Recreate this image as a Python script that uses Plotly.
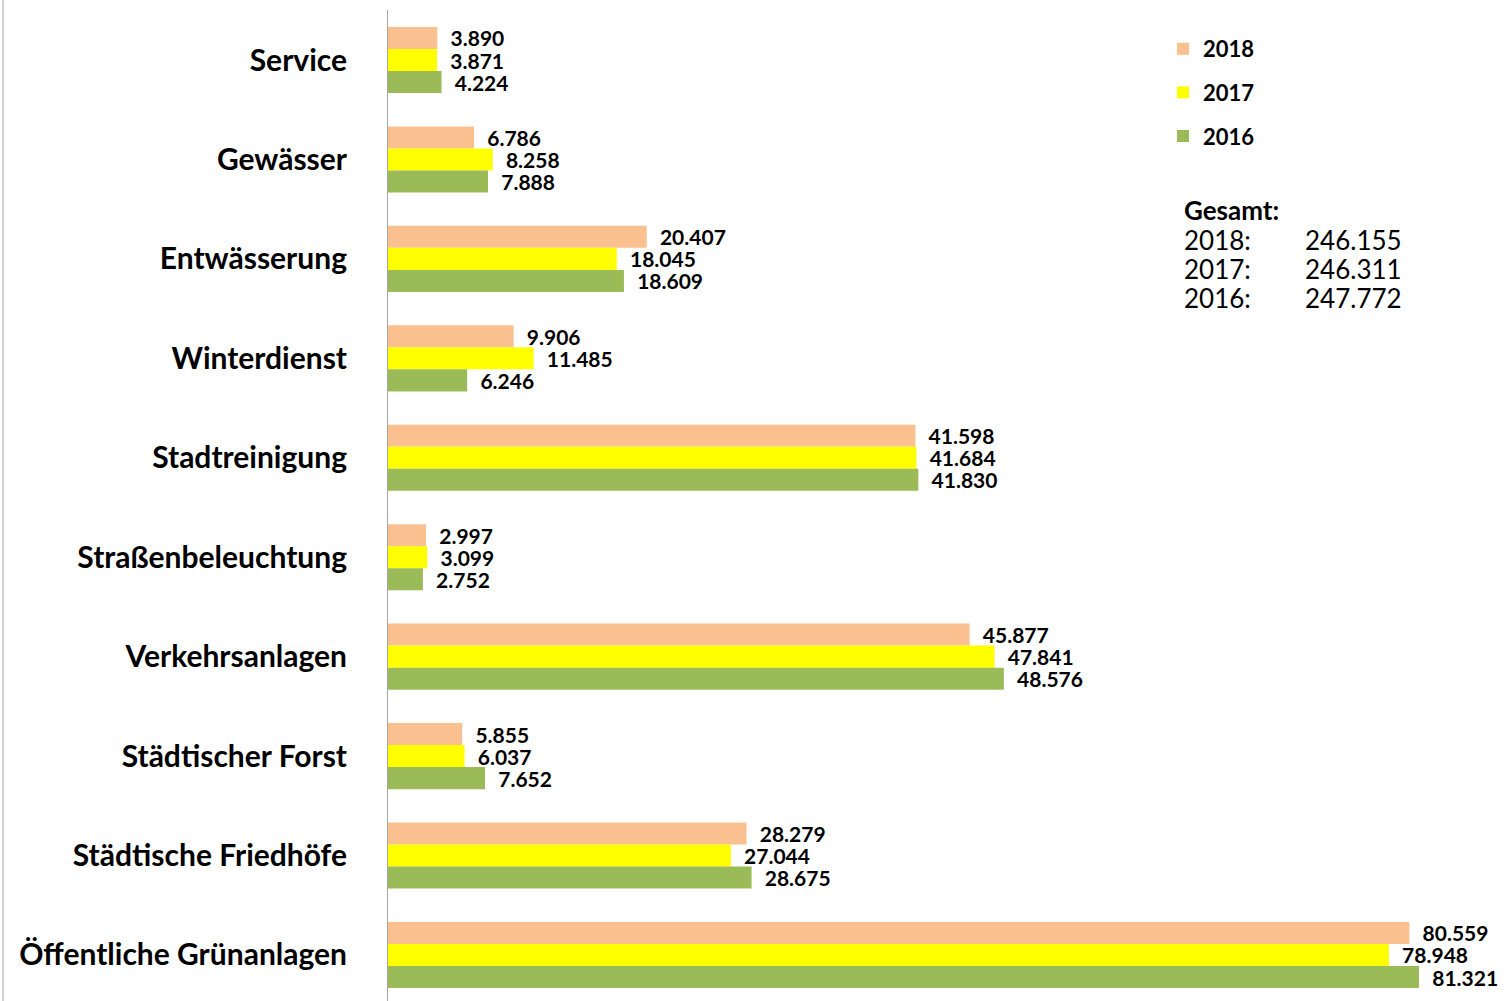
import plotly.graph_objects as go

categories = ["Service", "Gewässer", "Entwässerung", "Winterdienst", "Stadtreinigung",
              "Straßenbeleuchtung", "Verkehrsanlagen", "Städtischer Forst",
              "Städtische Friedhöfe", "Öffentliche Grünanlagen"]
v2018 = [3890, 6786, 20407, 9906, 41598, 2997, 45877, 5855, 28279, 80559]
v2017 = [3871, 8258, 18045, 11485, 41684, 3099, 47841, 6037, 27044, 78948]
v2016 = [4224, 7888, 18609, 6246, 41830, 2752, 48576, 7652, 28675, 81321]
years = ["2018", "2017", "2016"]
colors = ["#FAC090", "#FFFF00", "#9BBB59"]
totals = ["246.155", "246.311", "247.772"]

W, H = 1504, 1001
L, R, T, B = 388, 14, 10, 0
pw = W - L - R
ph = H - T - B

fig = go.Figure()
for name, vals, col in zip(years, [v2018, v2017, v2016], colors):
    fig.add_trace(go.Bar(
        y=categories, x=vals, name=name, orientation="h",
        marker=dict(color=col, line=dict(width=0)),
        text=vals, texttemplate="  %{x:,d}", textposition="outside",
        textfont=dict(family="Lato", size=21, color="black", weight="bold"),
        constraintext="none", cliponaxis=False, legendgroup=name,
    ))

# category index positions in pixels: first at 60, step 99.44
step = 99.44
top_idx = -(60 - T) / step
bot_idx = (H - B - 60) / step

fig.update_layout(
    width=W, height=H,
    margin=dict(l=L, r=R, t=T, b=B, autoexpand=False),
    barmode="group", bargap=0.335, bargroupgap=0,
    separators=",.",
    plot_bgcolor="white", paper_bgcolor="white",
    font=dict(family="Lato", color="black"),
    showlegend=True,
    legend=dict(x=(1163 - L) / pw, y=1 - (28 - T) / ph, xanchor="left", yanchor="top",
                font=dict(family="Lato", size=22, color="black", weight="bold"),
                traceorder="grouped", tracegroupgap=12, itemwidth=30,
                bgcolor="rgba(0,0,0,0)"),
    xaxis=dict(range=[0, pw / (1031 / 81321)], visible=False, showgrid=False, zeroline=False),
    yaxis=dict(range=[bot_idx, top_idx], showline=True, linecolor="#A6A6A6", linewidth=1,
               showgrid=False, ticks="", ticklabelstandoff=34,
               tickfont=dict(family="Lato", size=30, color="black", weight="bold")),
)

# Gesamt block
fig.add_annotation(xref="paper", yref="paper", x=(1182 - L) / pw, y=1 - (210 - T) / ph,
                   text="<b>Gesamt:</b>", showarrow=False, xanchor="left", yanchor="middle",
                   font=dict(family="Lato", size=26, color="black"))
for i, (yr, tot) in enumerate(zip(years, totals)):
    yy = 1 - (240 + 29 * i - T) / ph
    fig.add_annotation(xref="paper", yref="paper", x=(1182 - L) / pw, y=yy,
                       text=yr + ":", showarrow=False, xanchor="left", yanchor="middle",
                       font=dict(family="Lato", size=26, color="black"))
    fig.add_annotation(xref="paper", yref="paper", x=(1303 - L) / pw, y=yy,
                       text=tot, showarrow=False, xanchor="left", yanchor="middle",
                       font=dict(family="Lato", size=26, color="black"))

# chart-area left border
fig.add_shape(type="line", xref="paper", yref="paper", x0=(3 - L) / pw, x1=(3 - L) / pw,
              y0=(0 - B) / ph - 0.01, y1=1 + T / ph, line=dict(color="#A6A6A6", width=1))

fig.write_html("out.html")
